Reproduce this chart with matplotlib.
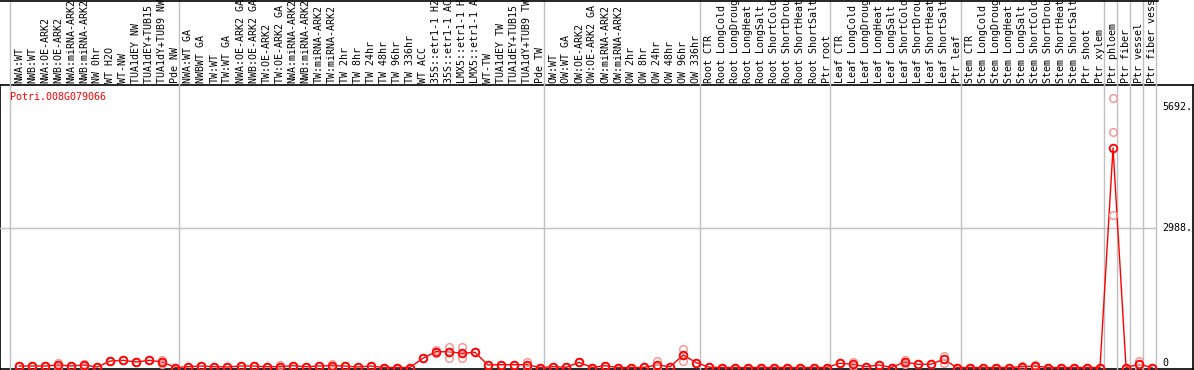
# Expression profile of one poplar gene across sample groups (eFP-style strip chart).

from matplotlib import pyplot as plt
import numpy as np

gene = 'Potri.008G079066'

samples = ['NWA:WT', 'NWB:WT', 'NWA:OE-ARK2', 'NWB:OE-ARK2', 'NWA:miRNA-ARK2', 'NWB:miRNA-ARK2',
           'NW 0hr', 'WT H2O', 'WT-NW', 'TUA1dEY NW', 'TUA1dEY+TUB15 NW', 'TUA1dY+TUB9 NW', 'Pde NW',
           'NWA:WT GA', 'NWBWT GA', 'TW:WT', 'TW:WT GA', 'NWA:OE-ARK2 GA', 'NWB:OE-ARK2 GA',
           'TW:OE-ARK2', 'TW:OE-ARK2 GA', 'NWA:miRNA-ARK2', 'NWB:miRNA-ARK2', 'TW:miRNA-ARK2',
           'TW:miRNA-ARK2', 'TW 2hr', 'TW 8hr', 'TW 24hr', 'TW 48hr', 'TW 96hr', 'TW 336hr', 'WT ACC',
           '35S::etr1-1 H2O', '35S::etr1-1 ACC', 'LMX5::etr1-1 H2O', 'LMX5::etr1-1 ACC', 'WT-TW',
           'TUA1dEY TW', 'TUA1dEY+TUB15 TW', 'TUA1dY+TUB9 TW', 'Pde TW',
           'OW:WT', 'OW:WT GA', 'OW:OE-ARK2', 'OW:OE-ARK2 GA', 'OW:miRNA-ARK2', 'OW:miRNA-ARK2',
           'OW 2hr', 'OW 8hr', 'OW 24hr', 'OW 48hr', 'OW 96hr', 'OW 336hr',
           'Root CTR', 'Root LongCold', 'Root LongDrought', 'Root LongHeat', 'Root LongSalt',
           'Root ShortCold', 'Root ShortDrought', 'Root ShortHeat', 'Root ShortSalt', 'Ptr root',
           'Leaf CTR', 'Leaf LongCold', 'Leaf LongDrought', 'Leaf LongHeat', 'Leaf LongSalt',
           'Leaf ShortCold', 'Leaf ShortDrought', 'Leaf ShortHeat', 'Leaf ShortSalt', 'Ptr leaf',
           'Stem CTR', 'Stem LongCold', 'Stem LongDrought', 'Stem LongHeat', 'Stem LongSalt',
           'Stem ShortCold', 'Stem ShortDrought', 'Stem ShortHeat', 'Stem ShortSalt', 'Ptr shoot',
           'Ptr xylem', 'Ptr phloem', 'Ptr fiber', 'Ptr vessel', 'Ptr fiber vessel']

# mean expression per sample
expr = [32, 32, 32, 54, 32, 54, 11, 139, 154, 118, 154, 118, 0,
        17, 32, 17, 11, 32, 32, 17, 17, 39, 17, 32, 39, 32, 11, 32, 0, 0, 0,
        197, 338, 338, 304, 326, 54, 60, 60, 60, 0,
        17, 4, 111, 0, 39, 0, 0, 4, 54, 17, 268, 103,
        4, 0, 0, 0, 0, 0, 0, 0, 0, 0,
        90, 69, 17, 54, 0, 118, 69, 69, 176, 0,
        0, 0, 0, 0, 17, 32, 0, 0, 0, 0, 0,
        4701, 0, 69, 0]

# replicates that stand apart from the mean
rep_idx = [3, 5, 11, 20, 24, 32, 33, 34, 39, 49, 51, 64, 68, 71, 77, 78, 84, 86]
rep_vals = [(96, 54, 11), (75, 54, 32), (160, 118, 75), (54, 17, 0), (75, 39, 4),
            (375, 338, 304), (445, 338, 197), (433, 304, 197), (118, 40, 22), (130, 30, 4),
            (390, 268, 146), (110, 69, 28), (160, 118, 75), (246, 176, 107), (40, 17, 0),
            (54, 32, 11), (5772, 5044, 3266), (146, 69, 0)]

# group boundaries (sample counts)
bounds = [0, 13, 41, 53, 63, 73, 84, 85, 86, 87, 88]

yticks = [0, 2988, 5692]
ytick_labels = ['0', '2988.', '5692.']

W, H = 1194, 370
fig = plt.figure(figsize=(W / 100, H / 100), dpi=100)
mono = 'DejaVu Sans Mono'
fs = 7.2
grey = '#c0c0c0'

# black box around the plotting strip
frame = fig.add_axes([0, 1 / H, 1 - 1 / W, 284 / H])
frame.set_xticks([])
frame.set_yticks([])
frame.patch.set_alpha(0)
for s in frame.spines.values():
    s.set_color('black')
    s.set_linewidth(1.2)
fig.add_artist(plt.Line2D([0, 1158 / W], [1 - 0.5 / H, 1 - 0.5 / H], color='black', lw=1.2))

ax = fig.add_axes([10 / W, 1 / H, 1146 / W, 284 / H])
ax.patch.set_alpha(0)
for s in ax.spines.values():
    s.set_visible(False)
ax.set_xticks([])
ax.set_yticks([])
ax.set_xlim(0, len(samples))
ax.set_ylim(-32, 6051)

x = np.arange(len(samples)) + 0.7
n = len(samples)

# separators through header and plot
for b in bounds:
    ax.axvline(b, ymin=-1 / 284, ymax=1 + 85 / 284, color=grey, lw=1, clip_on=False, zorder=1)
ax.axhline(yticks[1], xmin=-10 / 1146, xmax=1, color=grey, lw=1, clip_on=False, zorder=1)

# replicate points
reps = np.array([[v, v, v] for v in expr], dtype=float)
for i, r in zip(rep_idx, rep_vals):
    reps[i] = r
for k in range(3):
    ax.plot(x, reps[:, k], 'o', ms=5.5, mfc='none', mec='#f29a9a', mew=1.1, zorder=3)

ax.plot(x, expr, '-', color='#ff0000', lw=1, zorder=2)
ax.plot(x, expr, 'o', ms=5.5, mfc='none', mec='#ff0000', mew=1.3, zorder=4)

# rotated sample labels in the header
for xi, name in zip(x, samples):
    ax.text(xi, 1 + 2 / 284, name, rotation=90, ha='center', va='bottom',
            transform=ax.get_xaxis_transform(), family=mono, fontsize=fs, clip_on=False)

ax.text(0, 0.958, gene, color='#ff0000', family=mono, fontsize=fs, va='center',
        transform=ax.transAxes)

# value labels on the right
tx = 1 + 6 / 1146
ax.text(tx, yticks[0], ytick_labels[0], va='bottom', family=mono, fontsize=fs,
        transform=ax.get_yaxis_transform(), clip_on=False)
ax.text(tx, yticks[1], ytick_labels[1], va='center', family=mono, fontsize=fs,
        transform=ax.get_yaxis_transform(), clip_on=False)
ax.text(tx, yticks[2], ytick_labels[2], va='top', family=mono, fontsize=fs,
        transform=ax.get_yaxis_transform(), clip_on=False)

fig.savefig('out.png', dpi=100)
